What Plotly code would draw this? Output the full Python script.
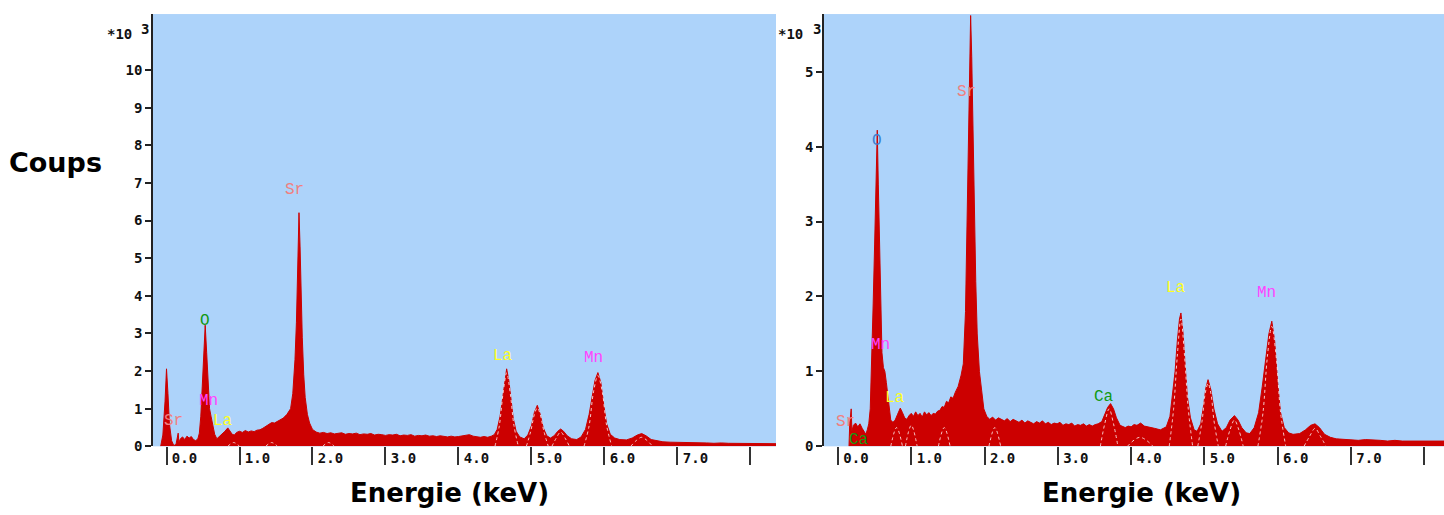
import plotly.graph_objects as go

# ---------------- data (energy in keV, counts in thousands) ----------------
left_energy = [
    -0.08, -0.05, -0.02, 0.00, 0.02, 0.04, 0.07, 0.10, 0.13, 0.15,
    0.16, 0.17, 0.19, 0.22, 0.25, 0.28, 0.31, 0.34, 0.37, 0.40,
    0.43, 0.45, 0.47, 0.49, 0.51, 0.53, 0.55, 0.57, 0.59, 0.61,
    0.63, 0.66, 0.69, 0.72, 0.76, 0.80, 0.84, 0.87, 0.90, 0.93,
    0.96, 1.00, 1.04, 1.08, 1.12, 1.16, 1.20, 1.24, 1.28, 1.32,
    1.36, 1.40, 1.44, 1.48, 1.52, 1.56, 1.60, 1.65, 1.70, 1.73,
    1.76, 1.78, 1.80, 1.815, 1.83, 1.845, 1.86, 1.88, 1.90, 1.93,
    1.96, 2.00, 2.05, 2.10, 2.15, 2.20, 2.25, 2.30, 2.35, 2.40,
    2.45, 2.50, 2.55, 2.60, 2.65, 2.70, 2.75, 2.80, 2.85, 2.90,
    2.95, 3.00, 3.05, 3.10, 3.15, 3.20, 3.25, 3.30, 3.35, 3.40,
    3.45, 3.50, 3.55, 3.60, 3.65, 3.70, 3.75, 3.80, 3.85, 3.90,
    3.95, 4.00, 4.05, 4.10, 4.15, 4.20, 4.25, 4.30, 4.35, 4.40,
    4.45, 4.49, 4.53, 4.57, 4.60, 4.63, 4.66, 4.69, 4.72, 4.75,
    4.79, 4.84, 4.90, 4.95, 5.00, 5.04, 5.08, 5.12, 5.16, 5.21,
    5.26, 5.31, 5.36, 5.40, 5.44, 5.49, 5.55, 5.62, 5.68, 5.74,
    5.79, 5.83, 5.87, 5.91, 5.95, 5.99, 6.03, 6.08, 6.14, 6.21,
    6.30, 6.38, 6.45, 6.51, 6.57, 6.64, 6.72, 6.80, 6.90, 7.00,
    7.10, 7.20, 7.30, 7.40, 7.50, 7.60, 7.70, 7.80, 7.90, 8.00,
    8.10, 8.20, 8.35]
left_counts = [
    0.00, 0.30, 1.20, 2.06, 1.40, 0.60, 0.15, 0.02, 0.05, 0.20,
    0.35, 0.10, 0.20, 0.25, 0.18, 0.27, 0.22, 0.26, 0.18, 0.15,
    0.20, 0.35, 0.80, 1.60, 2.60, 3.22, 2.50, 1.50, 1.00, 0.80,
    0.60, 0.32, 0.20, 0.25, 0.32, 0.40, 0.49, 0.40, 0.32, 0.30,
    0.37, 0.40, 0.37, 0.42, 0.38, 0.41, 0.39, 0.43, 0.44, 0.48,
    0.53, 0.57, 0.63, 0.62, 0.67, 0.70, 0.75, 0.85, 1.00, 1.40,
    2.30, 3.30, 4.80, 6.21, 5.30, 4.00, 2.90, 1.90, 1.30, 0.85,
    0.62, 0.45, 0.38, 0.35, 0.37, 0.34, 0.36, 0.33, 0.35, 0.36,
    0.32, 0.34, 0.33, 0.35, 0.31, 0.33, 0.32, 0.34, 0.30, 0.32,
    0.31, 0.29, 0.31, 0.30, 0.32, 0.28, 0.30, 0.29, 0.31, 0.27,
    0.29, 0.28, 0.30, 0.27, 0.28, 0.26, 0.28, 0.27, 0.25, 0.27,
    0.25, 0.26, 0.27, 0.29, 0.31, 0.27, 0.25, 0.24, 0.26, 0.24,
    0.27, 0.31, 0.45, 0.80, 1.20, 1.70, 2.06, 1.75, 1.20, 0.75,
    0.40, 0.25, 0.20, 0.30, 0.55, 0.90, 1.09, 0.85, 0.50, 0.28,
    0.22, 0.28, 0.40, 0.46, 0.40, 0.28, 0.20, 0.18, 0.25, 0.45,
    0.85, 1.30, 1.75, 1.96, 1.70, 1.10, 0.60, 0.32, 0.22, 0.18,
    0.17, 0.22, 0.30, 0.34, 0.28, 0.18, 0.14, 0.12, 0.11, 0.11,
    0.10, 0.09, 0.10, 0.09, 0.08, 0.09, 0.08, 0.08, 0.07, 0.08,
    0.07, 0.07, 0.07]

right_energy = [
    0.15, 0.16, 0.18, 0.19, 0.21, 0.24, 0.27, 0.30, 0.33, 0.36,
    0.38, 0.40, 0.42, 0.44, 0.46, 0.48, 0.50, 0.52, 0.536, 0.55,
    0.565, 0.58, 0.60, 0.62, 0.64, 0.66, 0.69, 0.72, 0.75, 0.78,
    0.81, 0.85, 0.88, 0.91, 0.94, 0.97, 1.00, 1.03, 1.06, 1.09,
    1.12, 1.15, 1.18, 1.21, 1.24, 1.27, 1.30, 1.33, 1.36, 1.39,
    1.42, 1.45, 1.48, 1.51, 1.54, 1.57, 1.60, 1.64, 1.68, 1.71,
    1.74, 1.76, 1.78, 1.795, 1.81, 1.825, 1.84, 1.86, 1.88, 1.90,
    1.93, 1.96, 1.99, 2.03, 2.07, 2.11, 2.15, 2.19, 2.23, 2.27,
    2.31, 2.35, 2.39, 2.43, 2.47, 2.51, 2.55, 2.59, 2.63, 2.67,
    2.71, 2.75, 2.79, 2.83, 2.87, 2.91, 2.95, 2.99, 3.03, 3.07,
    3.11, 3.15, 3.19, 3.23, 3.27, 3.31, 3.35, 3.39, 3.43, 3.47,
    3.51, 3.55, 3.60, 3.64, 3.68, 3.72, 3.76, 3.80, 3.85, 3.92,
    3.96, 4.00, 4.04, 4.08, 4.13, 4.18, 4.25, 4.32, 4.40, 4.48,
    4.53, 4.57, 4.60, 4.63, 4.66, 4.68, 4.71, 4.74, 4.77, 4.81,
    4.86, 4.90, 4.95, 4.99, 5.02, 5.05, 5.09, 5.13, 5.18, 5.24,
    5.30, 5.35, 5.41, 5.46, 5.51, 5.57, 5.62, 5.68, 5.74, 5.79,
    5.84, 5.88, 5.92, 5.96, 6.00, 6.04, 6.09, 6.15, 6.21, 6.30,
    6.38, 6.45, 6.51, 6.57, 6.64, 6.72, 6.80, 6.90, 7.00, 7.10,
    7.20, 7.30, 7.40, 7.50, 7.60, 7.70, 7.80, 7.90, 8.00, 8.30]
right_counts = [
    0.00, 0.30, 0.50, 0.20, 0.28, 0.31, 0.26, 0.30, 0.24, 0.18,
    0.16, 0.22, 0.30, 0.50, 1.10, 1.90, 2.70, 3.60, 4.22, 3.50,
    2.80, 1.90, 1.25, 1.05, 1.00, 0.85, 0.60, 0.35, 0.32, 0.35,
    0.42, 0.51, 0.45, 0.38, 0.36, 0.41, 0.44, 0.40, 0.46, 0.41,
    0.44, 0.39, 0.46, 0.42, 0.45, 0.41, 0.44, 0.43, 0.47, 0.48,
    0.53, 0.52, 0.60, 0.58, 0.66, 0.64, 0.72, 0.80, 0.95, 1.10,
    1.80, 2.80, 3.90, 4.80, 5.75, 5.20, 4.20, 3.20, 2.20, 1.50,
    1.00, 0.75, 0.50, 0.40, 0.36, 0.39, 0.35, 0.38, 0.36, 0.34,
    0.37, 0.33, 0.36, 0.34, 0.32, 0.35, 0.31, 0.34, 0.32, 0.30,
    0.33, 0.31, 0.34, 0.30, 0.32, 0.29, 0.31, 0.30, 0.32, 0.28,
    0.30, 0.29, 0.31, 0.27, 0.29, 0.28, 0.30, 0.27, 0.29, 0.27,
    0.29, 0.30, 0.33, 0.42, 0.52, 0.57, 0.50, 0.38, 0.28, 0.25,
    0.27, 0.26, 0.29, 0.28, 0.31, 0.27, 0.25, 0.24, 0.22, 0.26,
    0.40, 0.70, 1.00, 1.40, 1.70, 1.78, 1.50, 1.05, 0.65, 0.38,
    0.22, 0.20, 0.30, 0.55, 0.78, 0.89, 0.75, 0.50, 0.30, 0.20,
    0.25, 0.35, 0.41, 0.35, 0.25, 0.18, 0.17, 0.25, 0.45, 0.80,
    1.20, 1.50, 1.67, 1.40, 0.85, 0.45, 0.25, 0.18, 0.16, 0.17,
    0.22, 0.28, 0.30, 0.25, 0.16, 0.12, 0.10, 0.09, 0.09, 0.08,
    0.09, 0.08, 0.08, 0.07, 0.08, 0.07, 0.07, 0.08, 0.07, 0.07]

# fitted peak profiles (white dotted overlays); None separates peaks
left_fit_energy = [0.84, 0.92, 1.00, None, 1.36, 1.44, 1.52, None, 2.14, 2.22, 2.30, None,
                   4.50, 4.56, 4.61, 4.66, 4.71, 4.76, 4.82, None,
                   4.93, 4.99, 5.04, 5.08, 5.12, 5.17, 5.23, None,
                   5.28, 5.34, 5.40, 5.46, 5.52, None,
                   5.72, 5.79, 5.85, 5.91, 5.97, 6.03, 6.10, None,
                   6.36, 6.44, 6.51, 6.58, 6.66]
left_fit_counts = [0.00, 0.10, 0.00, None, 0.00, 0.10, 0.00, None, 0.00, 0.10, 0.00, None,
                   0.00, 0.55, 1.40, 1.95, 1.40, 0.55, 0.00, None,
                   0.00, 0.40, 0.85, 1.02, 0.85, 0.40, 0.00, None,
                   0.00, 0.22, 0.38, 0.22, 0.00, None,
                   0.00, 0.55, 1.45, 1.88, 1.45, 0.55, 0.00, None,
                   0.00, 0.16, 0.24, 0.16, 0.00]

right_fit_energy = [0.72, 0.80, 0.88, None, 0.92, 1.00, 1.08, None, 1.37, 1.45, 1.53, None,
                    2.06, 2.14, 2.22, None,
                    3.58, 3.64, 3.70, 3.76, 3.82, None, 3.95, 4.12, 4.30, None,
                    4.52, 4.58, 4.63, 4.68, 4.73, 4.78, 4.84, None,
                    4.91, 4.97, 5.01, 5.05, 5.09, 5.13, 5.19, None,
                    5.29, 5.35, 5.41, 5.47, 5.53, None,
                    5.73, 5.80, 5.86, 5.92, 5.98, 6.04, 6.11, None,
                    6.36, 6.44, 6.51, 6.58, 6.66]
right_fit_counts = [0.00, 0.25, 0.00, None, 0.00, 0.28, 0.00, None, 0.00, 0.25, 0.00, None,
                    0.00, 0.25, 0.00, None,
                    0.00, 0.30, 0.50, 0.30, 0.00, None, 0.00, 0.12, 0.00, None,
                    0.00, 0.50, 1.20, 1.70, 1.20, 0.50, 0.00, None,
                    0.00, 0.35, 0.70, 0.84, 0.70, 0.35, 0.00, None,
                    0.00, 0.22, 0.35, 0.22, 0.00, None,
                    0.00, 0.45, 1.20, 1.60, 1.20, 0.45, 0.00, None,
                    0.00, 0.14, 0.24, 0.14, 0.00]

x_tick_values = [0, 1, 2, 3, 4, 5, 6, 7, 8]
x_tick_labels = ["0.0", "1.0", "2.0", "3.0", "4.0", "5.0", "6.0", "7.0", ""]
left_y_ticks = [0, 1, 2, 3, 4, 5, 6, 7, 8, 9, 10]
right_y_ticks = [0, 1, 2, 3, 4, 5]

# element labels: text, energy (keV), counts (thousands), colour
left_label_text = ["Sr", "O", "Mn", "La", "Sr", "La", "Mn"]
left_label_energy = [1.76, 0.53, 0.57, 0.78, 0.09, 4.61, 5.85]
left_label_counts = [6.82, 3.33, 1.20, 0.67, 0.67, 2.40, 2.34]
left_label_color = ["#F08080", "#119911", "#FF44FF", "#FFFF22", "#F08080", "#FFFF22", "#FF44FF"]

right_label_text = ["O", "Sr", "Mn", "La", "Sr", "Ca", "Ca", "La", "Mn"]
right_label_energy = [0.536, 1.756, 0.58, 0.78, 0.10, 0.29, 3.63, 4.61, 5.85]
right_label_counts = [4.07, 4.73, 1.35, 0.64, 0.33, 0.08, 0.66, 2.11, 2.04]
right_label_color = ["#3B80D0", "#F08080", "#FF44FF", "#FFFF22", "#F08080", "#119911", "#119911",
                     "#FFFF22", "#FF44FF"]

# ---------------- figure ----------------
RED = "#CC0000"
BG = "#ADD3FA"
W, H = 1444, 515
HE = 505.5   # effective rendered height used for vertical paper fractions


def fy(px):
    """paper y fraction for a pixel row measured from the top"""
    return 1 - px / HE


y_dom = [fy(445), fy(14)]

fig = go.Figure()
for xs, ys, xa, ya in [(left_energy, left_counts, "x", "y"), (right_energy, right_counts, "x2", "y2")]:
    fig.add_trace(go.Scatter(x=xs, y=ys, mode="lines", fill="tozeroy",
                             line=dict(color=RED, width=1), fillcolor=RED,
                             xaxis=xa, yaxis=ya, showlegend=False, hoverinfo="skip"))
for xs, ys, xa, ya in [(left_fit_energy, left_fit_counts, "x", "y"),
                       (right_fit_energy, right_fit_counts, "x2", "y2")]:
    fig.add_trace(go.Scatter(x=xs, y=ys, mode="lines", line_shape="spline",
                             line=dict(color="rgba(255,235,235,0.85)", width=1, dash="dot"),
                             xaxis=xa, yaxis=ya, showlegend=False, hoverinfo="skip",
                             connectgaps=False))

tick_font = dict(family="DejaVu Sans Mono", size=14, color="#111111", weight="bold")

xcommon = dict(tickvals=x_tick_values, ticktext=x_tick_labels, ticks="outside", ticklen=18,
               tickwidth=2, tickcolor="#333333", showgrid=False, zeroline=False, showline=False,
               tickfont=tick_font, ticklabelshift=18, ticklabelstandoff=-19, fixedrange=True)
ycommon = dict(ticks="outside", ticklen=6, tickwidth=1.5, tickcolor="#222222", showgrid=False,
               zeroline=False, showline=True, linecolor="#222222", linewidth=1.5,
               tickfont=tick_font, domain=y_dom, fixedrange=True)

fig.update_layout(
    width=W, height=H, autosize=False, margin=dict(l=0, r=0, t=0, b=0),
    paper_bgcolor="white", plot_bgcolor=BG,
    xaxis=dict(domain=[153 / W, 776 / W], range=[-0.185, 8.35], anchor="y", **xcommon),
    yaxis=dict(range=[0, 11.49], tickvals=left_y_ticks, anchor="x", **ycommon),
    xaxis2=dict(domain=[824 / W, 1.0], range=[-0.191, 8.27], anchor="y2", **xcommon),
    yaxis2=dict(range=[0, 5.77], tickvals=right_y_ticks, anchor="x2", **ycommon),
)

ann = []
lab_font = "Liberation Mono"
for t, e, c, col in zip(left_label_text, left_label_energy, left_label_counts, left_label_color):
    ann.append(dict(x=e, y=c, xref="x", yref="y", text=t, showarrow=False,
                    xanchor="center", yanchor="middle",
                    font=dict(family=lab_font, size=16, color=col)))
for t, e, c, col in zip(right_label_text, right_label_energy, right_label_counts, right_label_color):
    ann.append(dict(x=e, y=c, xref="x2", yref="y2", text=t, showarrow=False,
                    xanchor="center", yanchor="middle",
                    font=dict(family=lab_font, size=16, color=col)))

# multiplier labels
for xm, xs in [(119, 145), (790, 817)]:
    ann.append(dict(x=xm / W, y=fy(34), xref="paper", yref="paper", text="*10",
                    showarrow=False, xanchor="center", yanchor="middle", font=tick_font))
    ann.append(dict(x=xs / W, y=fy(29), xref="paper", yref="paper", text="3",
                    showarrow=False, xanchor="center", yanchor="middle", font=tick_font))

title_font = dict(family="DejaVu Sans", size=27, color="black", weight="bold")
axis_title_font = dict(family="DejaVu Sans", size=26, color="black", weight="bold")
ann.append(dict(x=56 / W, y=fy(162), xref="paper", yref="paper", text="Coups",
                showarrow=False, xanchor="center", yanchor="middle", font=title_font))
for xc in [449.5, 1141]:
    ann.append(dict(x=xc / W, y=fy(492), xref="paper", yref="paper", text="Energie (keV)",
                    showarrow=False, xanchor="center", yanchor="middle", font=axis_title_font))

fig.update_layout(annotations=ann)
fig.write_html(
    "out.html",
    config={"responsive": False, "displayModeBar": False},
    post_script=("var gd=document.getElementById('{plot_id}');"
                 "gd.style.position='fixed';gd.style.top='0px';gd.style.left='0px';"
                 "document.body.style.margin='0';document.body.style.overflow='hidden';"
                 "document.documentElement.style.overflow='hidden';"),
)
